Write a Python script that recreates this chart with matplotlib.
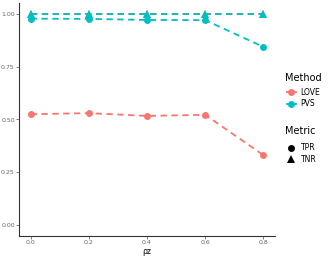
import matplotlib
matplotlib.use("Agg")
import matplotlib.pyplot as plt
from matplotlib.lines import Line2D

rho = [0.0, 0.2, 0.4, 0.6, 0.8]
love_tpr = [0.525, 0.53, 0.517, 0.522, 0.332]
love_tnr = [1.0, 1.0, 1.0, 1.0, 1.0]
pvs_tpr = [0.976, 0.975, 0.97, 0.969, 0.843]
pvs_tnr = [1.0, 1.0, 1.0, 1.0, 1.0]
methods = ["LOVE", "PVS"]
metrics = ["TPR", "TNR"]
xticks = [0.0, 0.2, 0.4, 0.6, 0.8]
yticks = [0.0, 0.25, 0.5, 0.75, 1.0]

colors = {"LOVE": "#F8766D", "PVS": "#00BFC4"}
markers = {"TPR": "o", "TNR": "^"}
msize = {"TPR": 5.0, "TNR": 5.6}

fig = plt.figure(figsize=(3.32, 2.58), dpi=100)
ax = fig.add_axes([19/332, 22/258, 256/332, 233/258])

series = [("LOVE", "TNR", love_tnr), ("LOVE", "TPR", love_tpr),
          ("PVS", "TNR", pvs_tnr), ("PVS", "TPR", pvs_tpr)]
for m, met, vals in series:
    ax.plot(rho, vals, color=colors[m], linestyle=(0, (3.5, 2.5)), linewidth=1.3,
            marker=markers[met], markersize=msize[met], markeredgewidth=0)

ax.set_xlim(-0.04, 0.84)
ax.set_ylim(-0.05, 1.05)
ax.set_xticks(xticks)
ax.set_xticklabels(["0.0", "0.2", "0.4", "0.6", "0.8"])
ax.set_yticks(yticks)
ax.set_yticklabels(["0.00", "0.25", "0.50", "0.75", "1.00"])
ax.tick_params(labelsize=4.5, colors="#4d4d4d", length=2, width=0.5, pad=1)
ax.tick_params(labelcolor="#666666")
for s in ["top", "right"]:
    ax.spines[s].set_visible(False)
for s in ["left", "bottom"]:
    ax.spines[s].set_linewidth(0.8)
    ax.spines[s].set_color("#333333")
ax.set_xlabel("ρz", fontsize=5.5, labelpad=1, color="black")

fig.text(285/332, 1 - 78/258, "Method", fontsize=7, va="center", ha="left")
fig.text(285/332, 1 - 131/258, "Metric", fontsize=7, va="center", ha="left")

h1 = [Line2D([0], [0], color=colors[m], marker="o", linestyle="-", linewidth=1.3,
             markersize=5.0, markeredgewidth=0) for m in methods]
fig.legend(h1, methods, loc="center left",
           bbox_to_anchor=(280/332, 1 - 98/258), frameon=False,
           fontsize=5.5, handlelength=1.2,
           handletextpad=0.6, labelspacing=0.35)
h2 = [Line2D([0], [0], color="black", marker=markers[k], linestyle="none",
             markersize=msize[k], markeredgewidth=0) for k in metrics]
fig.legend(h2, metrics, loc="center left",
           bbox_to_anchor=(280/332, 1 - 153.5/258), frameon=False,
           fontsize=5.5, handlelength=1.2,
           handletextpad=0.6, labelspacing=0.3)

fig.savefig("out.png", dpi=100)
